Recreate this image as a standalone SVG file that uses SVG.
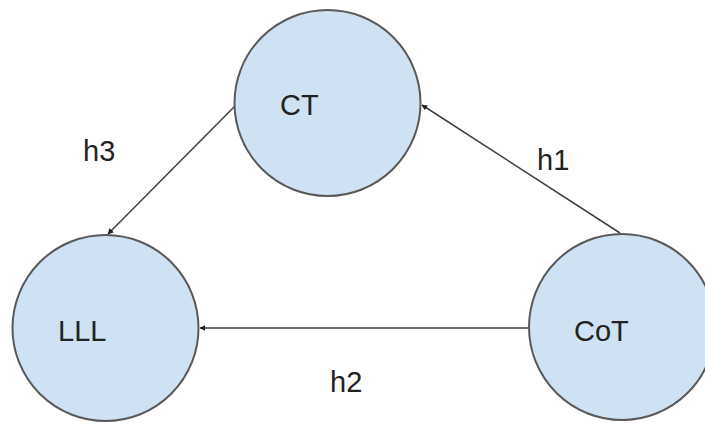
<svg xmlns="http://www.w3.org/2000/svg" width="705" height="425" viewBox="0 0 705 425">
  <style>
    .node circle { fill: #cfe2f3; stroke: #595959; stroke-width: 2; }
    .node text, .label { font-family: "Liberation Sans", Arial, sans-serif; font-size: 29px; fill: #222; }
    .edge { stroke: #404040; stroke-width: 1.5; fill: none; marker-end: url(#arrow); }
  </style>
  <defs>
    <marker id="arrow" viewBox="0 0 10 10" refX="9" refY="5" markerWidth="6" markerHeight="6" markerUnits="userSpaceOnUse" orient="auto">
      <path d="M0,0 L10,5 L0,10 z" fill="#222"/>
    </marker>
  </defs>
  <rect width="705" height="425" fill="#ffffff"/>

  <g id="connectors">
    <line class="edge" x1="620" y1="233" x2="422" y2="105"/>
    <line class="edge" x1="236" y1="105" x2="108" y2="234"/>
    <line class="edge" x1="529" y1="328" x2="200" y2="328"/>
  </g>

  <g id="labels">
    <text class="label" x="537" y="170">h1</text>
    <text class="label" x="330" y="392">h2</text>
    <text class="label" x="83" y="161">h3</text>
  </g>

  <g id="node-ct" class="node">
    <circle cx="327.5" cy="103" r="93"/>
    <text x="280" y="115">CT</text>
  </g>

  <g id="node-lll" class="node">
    <circle cx="105.5" cy="328" r="93"/>
    <text x="58" y="341">LLL</text>
  </g>

  <g id="node-cot" class="node">
    <circle cx="622" cy="327" r="93"/>
    <text x="574" y="341">CoT</text>
  </g>
</svg>
